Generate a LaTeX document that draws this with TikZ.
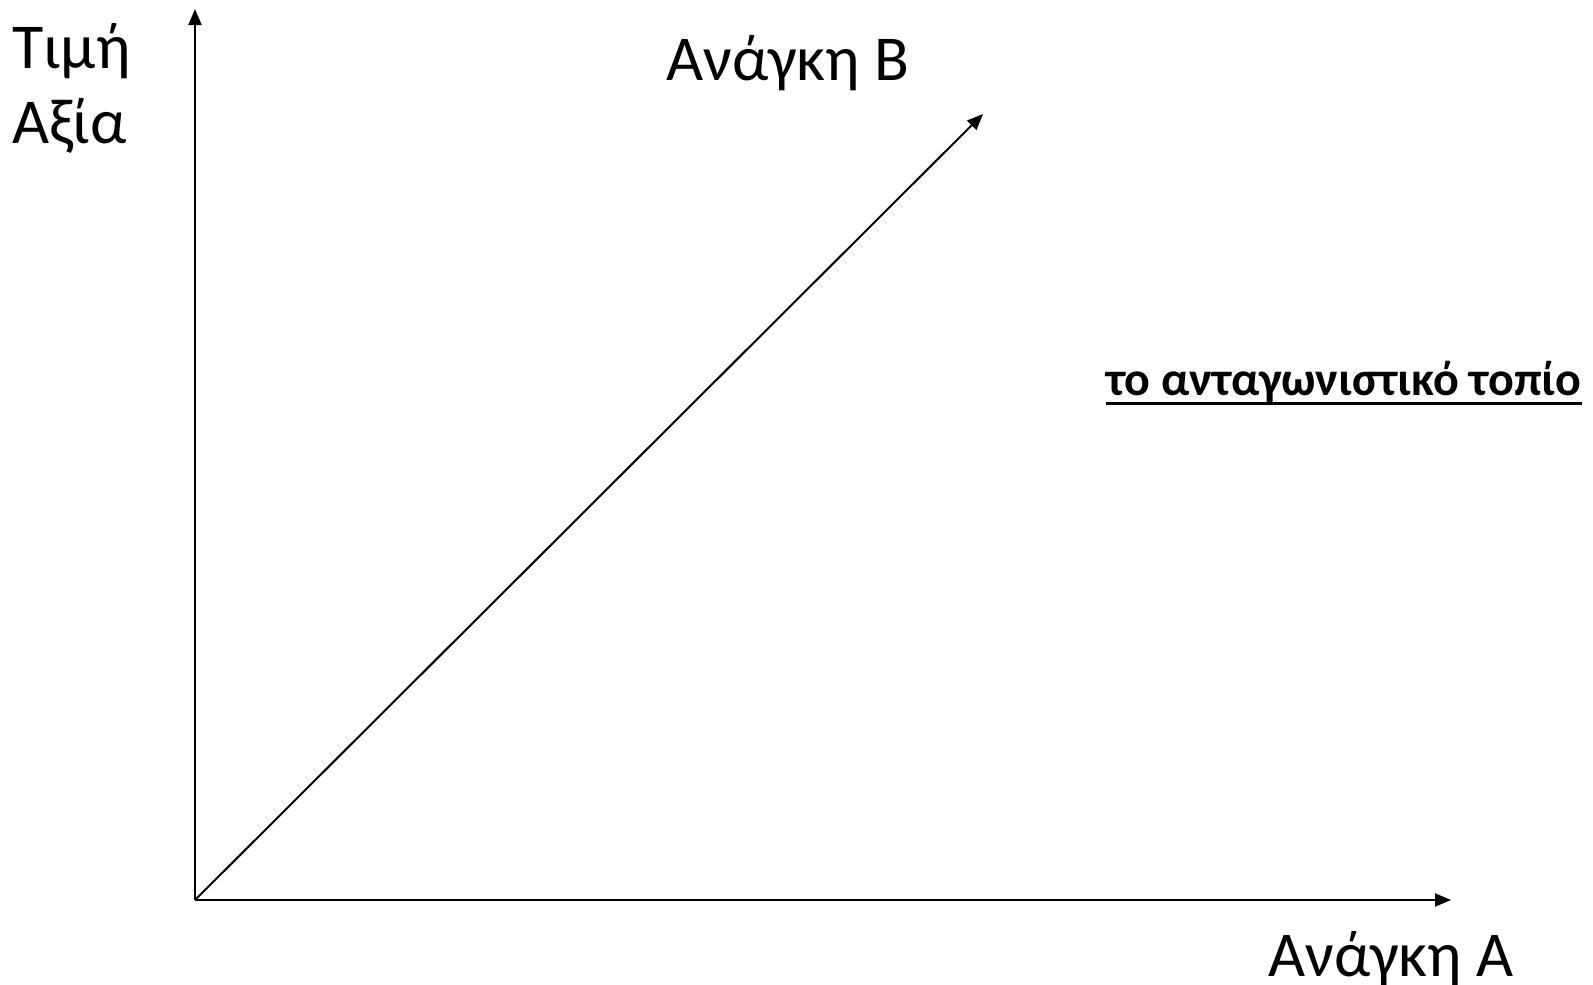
\documentclass[tikz,border=0pt]{standalone}
\usepackage{fontspec}
\setmainfont{Carlito}
\usetikzlibrary{arrows.meta}
\begin{document}
\begin{tikzpicture}[x=1pt,y=-1pt,
  axis/.style={line width=2pt,-{Triangle[length=16pt,width=13pt]}},
  lbl/.style={inner sep=0pt,anchor=base west,font=\fontsize{64}{77}\selectfont},
  blbl/.style={inner sep=0pt,anchor=base west,font=\fontsize{48}{58}\selectfont\bfseries}]
\useasboundingbox (0,0) rectangle (1593,985);
\coordinate (O) at (195,900);
\coordinate (Ytip) at (195,9);
\coordinate (Xtip) at (1451,900);
\coordinate (Dtip) at (983,114);
\draw[axis] (O) -- (Ytip);
\draw[axis] (O) -- (Xtip);
\draw[axis] (O) -- (Dtip);
\node[lbl] (tm) at (12,68) {Τιμή};
\node[lbl] (ax) at (12,143) {Αξία};
\node[lbl] (nb) at (666,80) {Ανάγκη Β};
\node[lbl] (na) at (1268,976) {Ανάγκη Α};
\node[blbl] (tp) at (1106,395) {το ανταγωνιστικό τοπίο};
\draw[line width=3pt] ([yshift=-8pt]tp.base west) -- ([yshift=-8pt]tp.base east);
\end{tikzpicture}
\end{document}
